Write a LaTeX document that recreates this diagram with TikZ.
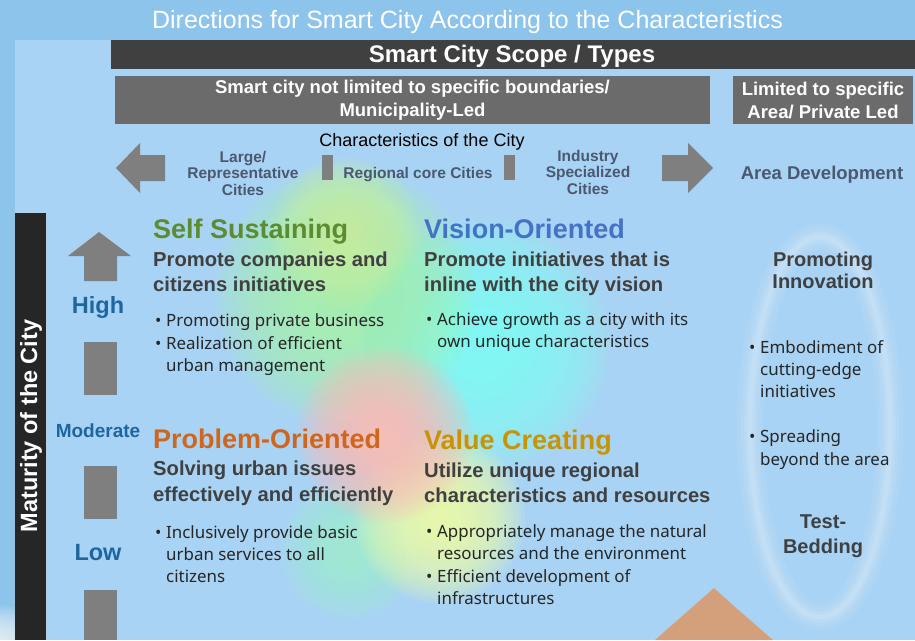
\documentclass[tikz,border=0pt]{standalone}
\usepackage{fontspec}
\setmainfont{Liberation Sans}
\newfontfamily\bodyfont{Noto Sans}
\definecolor{bgtop}{HTML}{8CC4EC}
\definecolor{bgmain}{HTML}{A9D3F4}
\definecolor{dbar}{HTML}{404040}
\definecolor{gbox}{HTML}{6B6B6B}
\definecolor{gshape}{HTML}{7F7F7F}
\definecolor{slate}{HTML}{4A5870}
\definecolor{dgray}{HTML}{404040}
\definecolor{btext}{HTML}{262626}
\definecolor{matblue}{HTML}{1E66A0}
\definecolor{cgreen}{HTML}{5B8C32}
\definecolor{cblue}{HTML}{4472C4}
\definecolor{corange}{HTML}{D0651C}
\definecolor{cgold}{HTML}{C99400}
\definecolor{roof}{HTML}{D4A07C}
\definecolor{blobyg}{RGB}{205,245,160}
\definecolor{blobg}{RGB}{165,245,175}
\definecolor{blobc}{RGB}{130,255,242}
\definecolor{blobgc}{RGB}{160,242,210}
\definecolor{blobp}{RGB}{255,190,182}
\definecolor{bloby}{RGB}{240,255,170}
\newcommand\bu{\makebox[11pt][l]{•}}
% soft blob: stacked translucent discs
\newcommand\softblob[4][0.1]{\foreach \k in {1,...,24}{\fill[#2, fill opacity=#1] (#3) circle ({#4*\k/24});}}
\begin{document}
\begin{tikzpicture}[x=1pt,y=-1pt,
  head/.style={inner sep=0, anchor=base west, font=\bfseries\fontsize{27}{30}\selectfont},
  sub/.style={inner sep=0, anchor=base west, text=dgray, font=\bfseries\fontsize{20.2}{24}\selectfont},
  bul/.style={inner sep=0, anchor=base west, text=btext, font=\bodyfont\fontsize{16.9}{20}\selectfont},
  slatelbl/.style={inner sep=0, anchor=base, text=slate, font=\bfseries\fontsize{15.5}{17}\selectfont},
  matlbl/.style={inner sep=0, anchor=base, text=matblue, font=\bfseries\fontsize{23.5}{26}\selectfont},
  rhead/.style={inner sep=0, anchor=base, text=dgray, font=\bfseries\fontsize{20}{22}\selectfont},
  graybox/.style={fill=gbox, text=white, inner sep=0, align=center, font=\bfseries\fontsize{18.5}{23}\selectfont},
  glow/.style={white, draw opacity=#1}
]
\useasboundingbox (0,0) rectangle (915,640);
% background
\fill[bgtop] (0,0) rectangle (915,640);
\fill[bgmain] (15,40) rectangle (915,640);
\softblob[0.07]{white}{0,650}{45}
% colour blobs
\softblob{blobc}{482,345}{128}
\softblob{blobg}{345,295}{130}
\softblob[0.08]{blobyg}{345,232}{75}
\softblob[0.08]{blobgc}{350,550}{70}
\softblob{bloby}{440,518}{85}
\softblob{blobp}{385,435}{88}
% glowing ring
\draw[glow=0.06, line width=26] (820,427) ellipse (70 and 190);
\draw[glow=0.08, line width=18] (820,427) ellipse (70 and 190);
\draw[glow=0.10, line width=11] (820,427) ellipse (70 and 190);
\draw[glow=0.12, line width=5] (820,427) ellipse (70 and 190);
% roof
\fill[roof] (655,640) -- (714,588) -- (735,607) -- (773,640) -- cycle;

% title
\node[inner sep=0, anchor=base, text=white, font=\fontsize{25}{28}\selectfont] (title) at (467.5,28) {Directions for Smart City According to the Characteristics};
% scope bar
\node[fill=dbar, minimum width=804pt, minimum height=29pt, inner sep=0] (scope) at (513,54.5) {};
\node[inner sep=0, anchor=base, text=white, font=\bfseries\fontsize{24}{28}\selectfont] (scopet) at (512,62) {Smart City Scope / Types};
\node[graybox, minimum width=595pt, minimum height=48pt] (muni) at (412.5,100) {Smart city not limited to specific boundaries/\\Municipality-Led};
\node[graybox, minimum width=180pt, minimum height=48pt] (priv) at (823,100) {Limited to specific\\Area/ Private Led};

% characteristics row
\node[inner sep=0, anchor=base, text=black, font=\fontsize{18}{20}\selectfont] (char) at (422,146) {Characteristics of the City};
\fill[gshape] (116,168) -- (140,143) -- (140,155) -- (165,155) -- (165,181) -- (140,181) -- (140,193) -- cycle;
\fill[gshape] (713,168) -- (688,143) -- (688,155) -- (662,155) -- (662,181) -- (688,181) -- (688,193) -- cycle;
\fill[gshape] (322,155) rectangle (333,180);
\fill[gshape] (504,155) rectangle (515,180);
\node[slatelbl] (large1) at (243,162) {Large/};
\node[slatelbl] (large2) at (243,178) {Representative};
\node[slatelbl] (large3) at (243,195) {Cities};
\node[slatelbl] (reg) at (418,178) {Regional core Cities};
\node[slatelbl] (ind1) at (588,161) {Industry};
\node[slatelbl] (ind2) at (588,177) {Specialized};
\node[slatelbl] (ind3) at (588,194) {Cities};
\node[slatelbl, font=\bfseries\fontsize{18.5}{20}\selectfont] (area) at (822,179) {Area Development};

% maturity axis
\fill[btext] (15,213) rectangle (46,640);
\node[inner sep=0, rotate=90, text=white, font=\bfseries\fontsize{23.5}{26}\selectfont] (mat) at (31,426) {Maturity of the City};
\fill[gshape] (99,232) -- (131,256) -- (117,256) -- (117,281) -- (84,281) -- (84,256) -- (68,256) -- cycle;
\node[matlbl] (high) at (98,313) {High};
\fill[gshape] (84,342) rectangle (117,395);
\node[matlbl, font=\bfseries\fontsize{19}{22}\selectfont] (mod) at (98,437) {Moderate};
\fill[gshape] (84,466) rectangle (117,519);
\node[matlbl] (low) at (98,560) {Low};
\fill[gshape] (84,590) rectangle (117,640);

% Self Sustaining
\node[head, text=cgreen] (ss) at (153,238) {Self Sustaining};
\node[sub] (ss1) at (153,266) {Promote companies and};
\node[sub] (ss2) at (153,291) {citizens initiatives};
\node[bul] (ssb1) at (155,326) {\bu Promoting private business};
\node[bul] (ssb2) at (155,349) {\bu Realization of efficient};
\node[bul] (ssb3) at (166,371) {urban management};

% Vision-Oriented
\node[head, text=cblue] (vo) at (424,238) {Vision-Oriented};
\node[sub] (vo1) at (424,266) {Promote initiatives that is};
\node[sub] (vo2) at (424,291) {inline with the city vision};
\node[bul] (vob1) at (426,325) {\bu Achieve growth as a city with its};
\node[bul] (vob2) at (437,347) {own unique characteristics};

% Problem-Oriented
\node[head, text=corange] (po) at (153,448) {Problem-Oriented};
\node[sub] (po1) at (153,475) {Solving urban issues};
\node[sub] (po2) at (153,501) {effectively and efficiently};
\node[bul] (pob1) at (155,538) {\bu Inclusively provide basic};
\node[bul] (pob2) at (166,560) {urban services to all};
\node[bul] (pob3) at (166,582) {citizens};

% Value Creating
\node[head, text=cgold] (vc) at (424,449) {Value Creating};
\node[sub] (vc1) at (424,477) {Utilize unique regional};
\node[sub] (vc2) at (424,502) {characteristics and resources};
\node[bul] (vcb1) at (426,537) {\bu Appropriately manage the natural};
\node[bul] (vcb2) at (437,559) {resources and the environment};
\node[bul] (vcb3) at (426,582) {\bu Efficient development of};
\node[bul] (vcb4) at (437,604) {infrastructures};

% right column
\node[rhead] (pi1) at (823,266) {Promoting};
\node[rhead] (pi2) at (823,288) {Innovation};
\node[bul] (rb1) at (749,353) {\bu Embodiment of};
\node[bul] (rb2) at (760,375) {cutting-edge};
\node[bul] (rb3) at (760,397) {initiatives};
\node[bul] (rb4) at (749,442) {\bu Spreading};
\node[bul] (rb5) at (760,465) {beyond the area};
\node[rhead] (tb1) at (823,528) {Test-};
\node[rhead] (tb2) at (823,553) {Bedding};
\end{tikzpicture}
\end{document}
